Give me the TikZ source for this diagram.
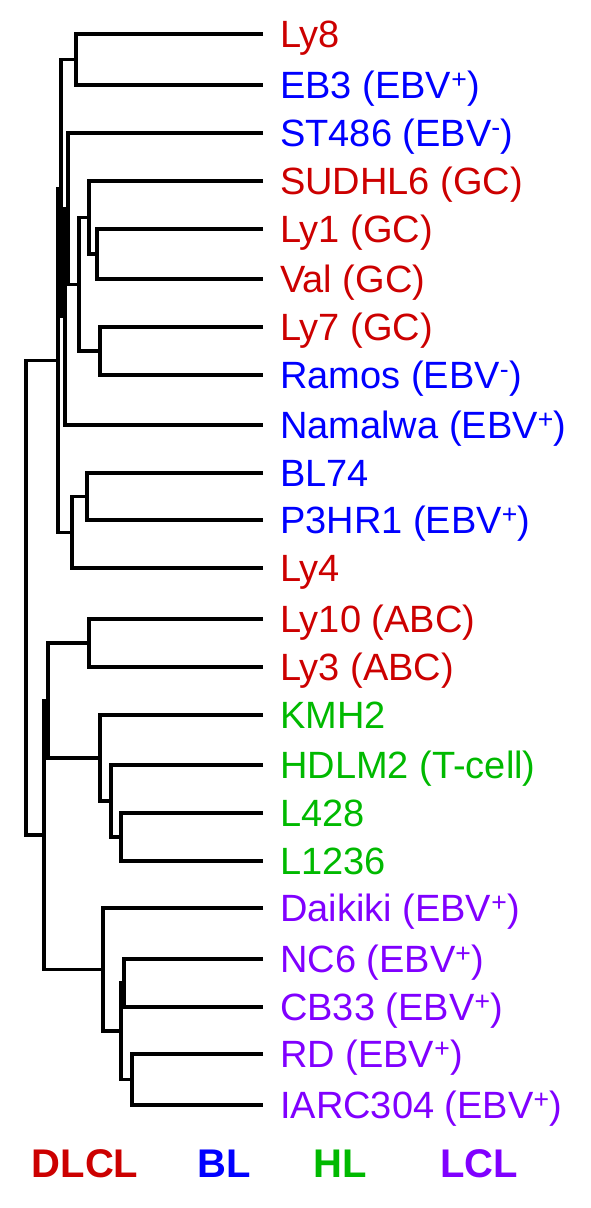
\documentclass[tikz,border=0pt]{standalone}
\usepackage{fontspec}
\setmainfont{Liberation Sans}
\usepackage{xcolor}
\usepackage{tikz}
\usetikzlibrary{positioning}
\definecolor{dlcl}{RGB}{204,0,0}
\definecolor{blc}{RGB}{0,0,255}
\definecolor{hlc}{RGB}{0,185,0}
\definecolor{lcl}{RGB}{128,0,255}

\begin{document}
\begin{tikzpicture}[
  x=1pt, y=-1pt,
  every node/.style={font=\fontsize{38}{40}\selectfont, inner sep=0pt},
  branch/.style={line width=3.2pt, black},
  leaf/.style={anchor=base west},
  group/.style={font=\fontsize{40}{44}\selectfont\bfseries, anchor=base}
]
\useasboundingbox (0,0) rectangle (591,1208);
\pgfmathsetmacro{\tx}{280}
% Leaves (row/y/label/colour)
\foreach \row/\yy/\lbl/\clr in {
  1/34/Ly8/dlcl, 2/85/EB3 (EBV\textsuperscript{+})/blc, 3/133/ST486 (EBV\textsuperscript{-})/blc,
  4/181/SUDHL6 (GC)/dlcl, 5/229/Ly1 (GC)/dlcl, 6/279/Val (GC)/dlcl,
  7/327/Ly7 (GC)/dlcl, 8/375/Ramos (EBV\textsuperscript{-})/blc, 9/425/Namalwa (EBV\textsuperscript{+})/blc,
  10/473/BL74/blc, 11/520/P3HR1 (EBV\textsuperscript{+})/blc, 12/568/Ly4/dlcl,
  13/619/Ly10 (ABC)/dlcl, 14/667/Ly3 (ABC)/dlcl, 15/715/KMH2/hlc,
  16/765/HDLM2 (T-cell)/hlc, 17/813/L428/hlc, 18/861/L1236/hlc,
  19/908/Daikiki (EBV\textsuperscript{+})/lcl, 20/959/NC6 (EBV\textsuperscript{+})/lcl,
  21/1007/CB33 (EBV\textsuperscript{+})/lcl, 22/1054/RD (EBV\textsuperscript{+})/lcl,
  23/1105/IARC304 (EBV\textsuperscript{+})/lcl}{
  \coordinate (e\row) at (263,\yy);
  \node[leaf,text=\clr] (t\row) at (\tx,\yy+13) {\lbl};
}
% Upper cluster
\coordinate (n1) at (76,59.5);
\coordinate (n2) at (97,254);
\coordinate (n3) at (89,217.5);
\coordinate (n4) at (100,351);
\coordinate (n5) at (79,284.3);
\coordinate (n6) at (68,208.6);
\coordinate (n7) at (65,316.8);
\coordinate (n8) at (61,188.2);
\coordinate (n9) at (87,496.5);
\coordinate (n10) at (72,532.3);
\coordinate (n11) at (58,360.2);
% Lower cluster
\coordinate (n12) at (89,643);
\coordinate (n13) at (121,837);
\coordinate (n14) at (111,801);
\coordinate (n15) at (100,758);
\coordinate (n16) at (48,700.5);
\coordinate (n17) at (124,983);
\coordinate (n18) at (132,1079.5);
\coordinate (n19) at (121,1031);
\coordinate (n20) at (103,969.5);
\coordinate (n21) at (44,835);
\coordinate (n22) at (26,597.6);
% Branches (child/parent/child)
\foreach \a/\p/\b in {
  e1/n1/e2, e5/n2/e6, e4/n3/n2, e7/n4/e8, n3/n5/n4, e3/n6/n5, n6/n7/e9,
  n1/n8/n7, e10/n9/e11, n9/n10/e12, n8/n11/n10,
  e13/n12/e14, e17/n13/e18, e16/n14/n13, e15/n15/n14, n12/n16/n15,
  e20/n17/e21, e22/n18/e23, n17/n19/n18, e19/n20/n19, n16/n21/n20,
  n11/n22/n21}
  \draw[branch] (\a) -| (\p) |- (\b);
% Group labels
\node[group,text=dlcl] (gdlcl) at (85,1177) {DLCL};
\node[group,text=blc] (gbl) at (224,1177) {BL};
\node[group,text=hlc] (ghl) at (340,1177) {HL};
\node[group,text=lcl] (glcl) at (479,1177) {LCL};
\end{tikzpicture}
\end{document}
